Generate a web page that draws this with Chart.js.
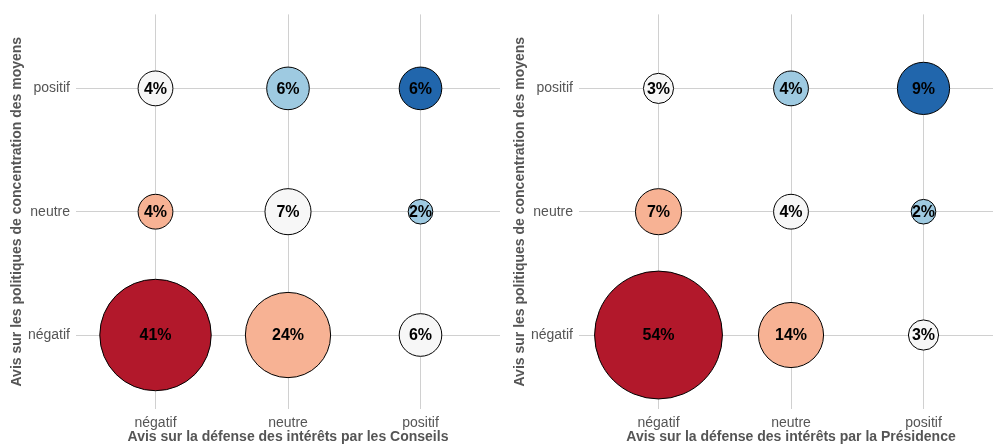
<!DOCTYPE html>
<html>
<head>
<meta charset="utf-8">
<script src="https://cdn.jsdelivr.net/npm/chart.js@4"></script>
<style>
  html, body { margin: 0; padding: 0; background: #fff; overflow: hidden; }
  body { width: 993px; height: 446px; position: relative; }
  canvas { position: absolute; top: 0; }
  #chartConseils { left: 0; }
  #chartPresidence { left: 500px; }
</style>
</head>
<body>
<canvas id="chartConseils" width="500" height="446"></canvas>
<canvas id="chartPresidence" width="503" height="446"></canvas>
<script>
'use strict';

// categories (x and y share the same ones)
let categories = ['négatif', 'neutre', 'positif'];

// percentages, one row per y category (négatif, neutre, positif), columns = x category
let conseilsRows = [
  [41, 24, 6],
  [4, 7, 2],
  [4, 6, 6]
];
let presidenceRows = [
  [54, 14, 3],
  [7, 4, 2],
  [3, 4, 9]
];

let yTitle = 'Avis sur les politiques de concentration des moyens';
let conseilsTitle = 'Avis sur la défense des intérêts par les Conseils';
let presidenceTitle = 'Avis sur la défense des intérêts par la Présidence';

// RdBu-like colours, from all-negative to all-positive
let palette = ['#b2182b', '#f7b294', '#f7f7f7', '#9ecae1', '#2166ac'];

let fontFamily = '"Liberation Sans", Arial, Helvetica, sans-serif';
let textGrey = '#555555';

function buildPoints(rows) {
  let points = [];
  for (let yi = 0; yi < rows.length; yi++) {
    for (let xi = 0; xi < rows[yi].length; xi++) {
      points.push({ x: xi, y: yi, v: rows[yi][xi] });
    }
  }
  return points;
}

// writes the percentage in the middle of each bubble
let bubbleLabels = {
  id: 'bubbleLabels',
  afterDatasetsDraw(chart) {
    let ctx = chart.ctx;
    let meta = chart.getDatasetMeta(0);
    let points = chart.data.datasets[0].data;
    ctx.save();
    ctx.font = 'bold 16px ' + fontFamily;
    ctx.fillStyle = '#000';
    ctx.textAlign = 'center';
    ctx.textBaseline = 'middle';
    meta.data.forEach(function (el, i) {
      ctx.fillText(points[i].v + '%', el.x, el.y + 1);
    });
    ctx.restore();
  }
};

function categoryScale(title, size, titlePadding, isX) {
  return {
    type: 'linear',
    min: -0.6,
    max: 2.6,
    afterBuildTicks: function (scale) {
      scale.ticks = [0, 1, 2].map(function (v) { return { value: v }; });
    },
    afterFit: function (scale) {
      if (isX) {
        scale.height = size;
      } else {
        scale.width = size;
      }
    },
    grid: { color: '#d0d0d0', lineWidth: 1, drawTicks: false },
    border: { display: false },
    ticks: {
      padding: 6,
      color: textGrey,
      font: { family: fontFamily, size: 14 },
      callback: function (v) { return categories[v]; }
    },
    title: {
      display: true,
      text: title,
      color: textGrey,
      font: { family: fontFamily, size: 14, weight: 'bold' },
      padding: titlePadding
    }
  };
}

function renderBubbleChart(canvasId, rows, xTitle, yAxisWidth, yTitlePad) {
  let chartObject = {
    type: 'bubble',
    data: {
      datasets: [{
        data: buildPoints(rows),
        backgroundColor: function (c) {
          let p = c.raw;
          return p ? palette[p.x + p.y] : '#fff';
        },
        borderColor: '#000',
        borderWidth: 1,
        radius: function (c) {
          return c.raw ? 8.7 * Math.sqrt(c.raw.v) : 0;
        },
        hoverRadius: 0
      }]
    },
    options: {
      responsive: false,
      animation: false,
      devicePixelRatio: 1,
      events: [],
      layout: { autoPadding: false, padding: { top: 14, left: 0, right: 0, bottom: 0 } },
      plugins: {
        legend: { display: false },
        tooltip: { enabled: false }
      },
      scales: {
        x: categoryScale(xTitle, 37, { top: 0, bottom: 0 }, true),
        y: categoryScale(yTitle, yAxisWidth, { top: yTitlePad, bottom: 0 }, false)
      }
    },
    plugins: [bubbleLabels]
  };
  return new Chart(document.getElementById(canvasId), chartObject);
}

renderBubbleChart('chartConseils', conseilsRows, conseilsTitle, 76, 8.5);
renderBubbleChart('chartPresidence', presidenceRows, presidenceTitle, 79, 11.5);
</script>
</body>
</html>
